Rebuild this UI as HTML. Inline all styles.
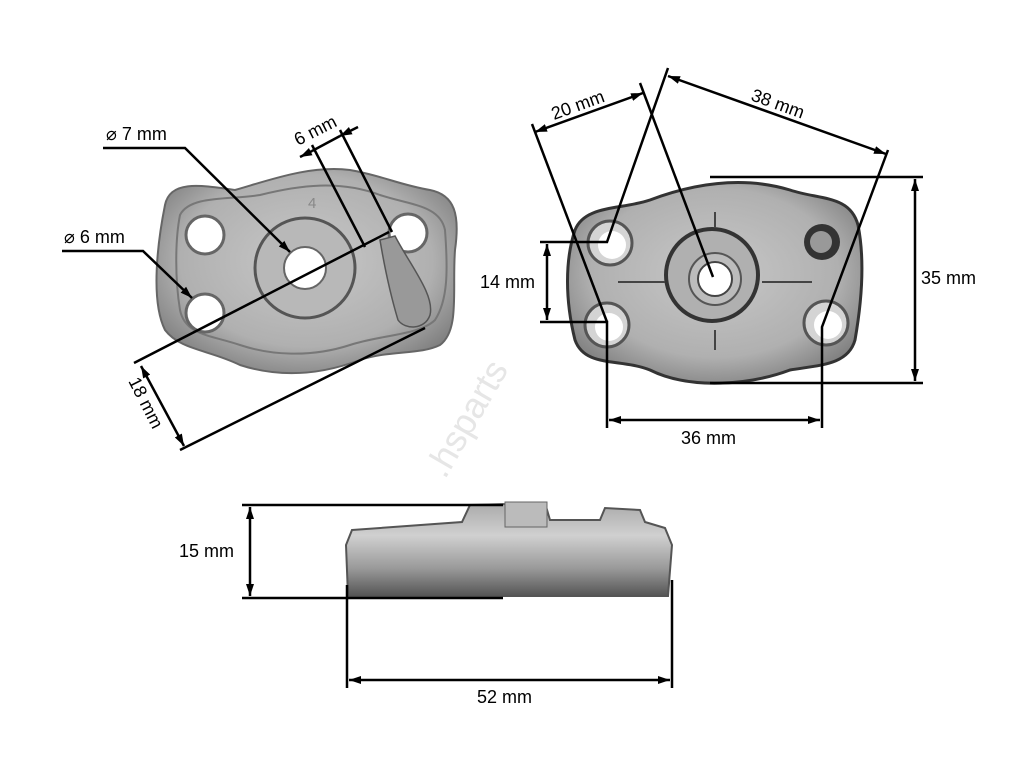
<!DOCTYPE html>
<html><head><meta charset="utf-8"><style>
html,body{margin:0;padding:0;background:#fff;}
svg{display:block;}
text{font-family:"Liberation Sans",sans-serif;font-size:18px;fill:#000;}
</style></head><body>
<svg width="1024" height="768" viewBox="0 0 1024 768" xmlns="http://www.w3.org/2000/svg">
<defs>
<radialGradient id="m" cx="50%" cy="45%" r="60%"><stop offset="0" stop-color="#c8c8c8"/><stop offset="0.7" stop-color="#b0b0b0"/><stop offset="1" stop-color="#808080"/></radialGradient>
<linearGradient id="s" x1="0" y1="0" x2="0" y2="1"><stop offset="0" stop-color="#aaa"/><stop offset="0.35" stop-color="#d0d0d0"/><stop offset="0.7" stop-color="#9a9a9a"/><stop offset="1" stop-color="#555"/></linearGradient>
<marker id="a" viewBox="0 0 12 10" refX="12" refY="5" markerWidth="12" markerHeight="10" orient="auto-start-reverse" markerUnits="userSpaceOnUse"><path d="M0,1 L12,5 L0,9 z" fill="#000"/></marker>
</defs>

<!-- left part -->
<path d="M165,205 C170,180 200,185 235,190 C270,180 310,165 350,170 C380,175 400,185 430,190 C455,195 460,215 455,250 C452,290 460,330 440,345 C420,355 390,350 360,360 C320,375 280,378 240,365 C210,350 180,350 165,330 C150,300 158,240 165,205 z" fill="url(#m)" stroke="#666" stroke-width="2"/>
<path d="M180,215 C190,195 230,200 260,195 C300,185 340,180 380,195 C410,205 440,205 445,230 C448,270 448,300 435,320 C420,335 380,335 350,345 C310,358 270,355 240,345 C210,335 185,335 180,310 C175,280 175,240 180,215 z" fill="none" stroke="#777" stroke-width="2"/>
<circle cx="305" cy="268" r="50" fill="#b8b8b8" stroke="#555" stroke-width="3"/>
<circle cx="305" cy="268" r="21" fill="#fff" stroke="#666" stroke-width="2"/>
<circle cx="205" cy="235" r="19" fill="#fff" stroke="#666" stroke-width="3"/>
<circle cx="408" cy="233" r="19" fill="#fff" stroke="#666" stroke-width="3"/>
<circle cx="205" cy="313" r="19" fill="#fff" stroke="#666" stroke-width="3"/>
<path d="M380,240 L395,236 C410,265 435,295 430,315 C425,330 405,330 398,320 C392,300 385,270 380,240 z" fill="#999" stroke="#555" stroke-width="1.5"/>
<text x="308" y="208" style="font-size:15px;fill:#888">4</text>

<!-- right part -->
<path d="M575,230 C585,205 620,210 650,200 C690,185 740,175 790,190 C820,200 850,195 858,225 C865,260 862,300 855,340 C848,365 820,365 790,370 C750,385 690,390 650,370 C620,358 585,368 575,340 C565,300 565,260 575,230 z" fill="url(#m)" stroke="#333" stroke-width="3"/>
<circle cx="712" cy="275" r="46" fill="#b0b0b0" stroke="#333" stroke-width="4"/>
<circle cx="715" cy="279" r="26" fill="#bcbcbc" stroke="#555" stroke-width="2"/>
<circle cx="715" cy="279" r="17" fill="#fff" stroke="#444" stroke-width="2"/>
<circle cx="610" cy="243" r="22" fill="#d4d4d4" stroke="#555" stroke-width="3"/><circle cx="612" cy="245" r="14" fill="#fff"/>
<circle cx="607" cy="325" r="22" fill="#d4d4d4" stroke="#555" stroke-width="3"/><circle cx="609" cy="327" r="14" fill="#fff"/>
<circle cx="826" cy="323" r="22" fill="#d4d4d4" stroke="#555" stroke-width="3"/><circle cx="828" cy="325" r="14" fill="#fff"/>
<circle cx="822" cy="242" r="18" fill="#333"/><circle cx="821" cy="242" r="11" fill="#999"/>
<line x1="618" y1="282" x2="665" y2="282" stroke="#444" stroke-width="2"/>
<line x1="762" y1="282" x2="812" y2="282" stroke="#444" stroke-width="2"/>
<line x1="715" y1="212" x2="715" y2="228" stroke="#444" stroke-width="2"/>
<line x1="715" y1="330" x2="715" y2="350" stroke="#444" stroke-width="2"/>

<!-- bottom part -->
<path d="M352,530 L462,522 L470,505 L545,503 L550,520 L600,520 L605,508 L640,510 L645,522 L665,528 L672,545 L668,596 L348,596 L346,545 z" fill="url(#s)" stroke="#555" stroke-width="2"/>
<rect x="505" y="502" width="42" height="25" fill="#bbb" stroke="#666"/>

<!-- watermark -->
<text x="0" y="0" transform="translate(445,480) rotate(-60)" style="font-size:36px;fill:#e6e6e6">.hsparts</text>

<g stroke="#000" stroke-width="2.5" fill="none">
<polyline points="103,148 185,148 290,252" marker-end="url(#a)"/>
<polyline points="62,251 143,251 192,298" marker-end="url(#a)"/>
<line x1="312" y1="145" x2="365" y2="247"/>
<line x1="340" y1="130" x2="392" y2="232"/>
<line x1="300" y1="157" x2="312" y2="151" marker-start="url(#a)"/>
<line x1="340" y1="136" x2="358" y2="127" marker-start="url(#a)"/>
<line x1="312" y1="151" x2="340" y2="136"/>
<line x1="134" y1="363" x2="389" y2="232"/>
<line x1="180" y1="450" x2="425" y2="328"/>
<line x1="141" y1="366" x2="184" y2="446" marker-start="url(#a)" marker-end="url(#a)"/>
<line x1="532" y1="124" x2="607" y2="322"/>
<line x1="535" y1="132" x2="643" y2="93" marker-start="url(#a)" marker-end="url(#a)"/>
<line x1="640" y1="83" x2="713" y2="277"/>
<polyline points="668,68 607,242 540,242"/>
<line x1="668" y1="76" x2="886" y2="154" marker-start="url(#a)" marker-end="url(#a)"/>
<polyline points="888,150 822,327 822,428"/>
<polyline points="540,322 607,322 607,428"/>
<line x1="547" y1="244" x2="547" y2="320" marker-start="url(#a)" marker-end="url(#a)"/>
<line x1="710" y1="177" x2="923" y2="177"/>
<line x1="710" y1="383" x2="923" y2="383"/>
<line x1="915" y1="179" x2="915" y2="381" marker-start="url(#a)" marker-end="url(#a)"/>
<line x1="609" y1="420" x2="820" y2="420" marker-start="url(#a)" marker-end="url(#a)"/>
<line x1="242" y1="505" x2="503" y2="505"/>
<line x1="242" y1="598" x2="503" y2="598"/>
<line x1="250" y1="507" x2="250" y2="596" marker-start="url(#a)" marker-end="url(#a)"/>
<line x1="347" y1="585" x2="347" y2="688"/>
<line x1="672" y1="580" x2="672" y2="688"/>
<line x1="349" y1="680" x2="670" y2="680" marker-start="url(#a)" marker-end="url(#a)"/>
</g>

<text x="106" y="140">⌀ 7 mm</text>
<text x="64" y="243">⌀ 6 mm</text>
<text transform="translate(298,146) rotate(-27)">6 mm</text>
<text transform="translate(128,381) rotate(63)">18 mm</text>
<text transform="translate(554,120) rotate(-20)">20 mm</text>
<text transform="translate(750,100) rotate(20)">38 mm</text>
<text x="480" y="288">14 mm</text>
<text x="921" y="284">35 mm</text>
<text x="681" y="444">36 mm</text>
<text x="179" y="557">15 mm</text>
<text x="477" y="703">52 mm</text>
</svg>
</body></html>
